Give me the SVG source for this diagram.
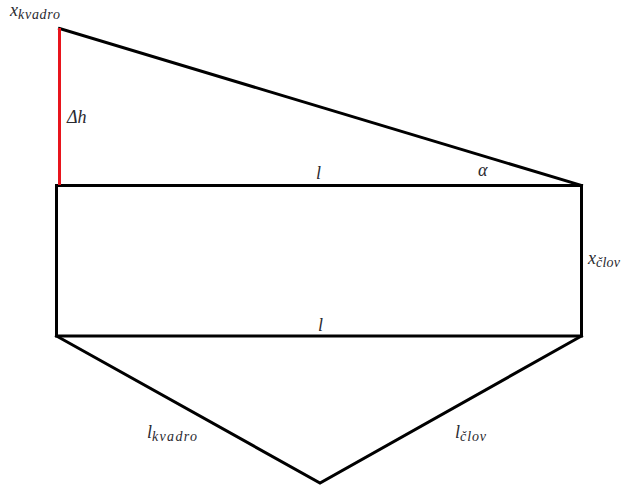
<svg xmlns="http://www.w3.org/2000/svg" width="622" height="487" viewBox="0 0 622 487">
<style>
.ln{stroke:#000;stroke-width:3;fill:none;stroke-linecap:square;stroke-linejoin:miter}
.red{stroke:#e8141c;stroke-width:3;fill:none}
.t{font-family:"Liberation Serif","DejaVu Serif",serif;font-style:italic;fill:#2a2a30;font-size:18px}
.s{font-size:14px}
</style>
<rect width="622" height="487" fill="#fff"/>
<g id="connectors">
<path class="ln" d="M59.5,28.5 L581.5,185.5"/>
<path class="ln" d="M56.5,185.5 L581.5,185.5 L581.5,336 L56.5,336 Z"/>
<path class="ln" d="M56.5,336 L320,483 L581.5,336"/>
<path class="red" d="M59.5,28 L59.5,185"/>
</g>
<g id="labels">
<text class="t" x="10" y="16">x<tspan class="s" dy="3" textLength="42" lengthAdjust="spacing">kvadro</tspan></text>
<text class="t" x="67" y="123">Δh</text>
<text class="t" x="316" y="179">l</text>
<text class="t" x="478" y="176">α</text>
<text class="t" x="588" y="264">x<tspan class="s" dy="3" textLength="24" lengthAdjust="spacing">člov</tspan></text>
<text class="t" x="318" y="331">l</text>
<text class="t" x="147" y="438">l<tspan class="s" dy="3" textLength="45" lengthAdjust="spacing">kvadro</tspan></text>
<text class="t" x="455" y="438">l<tspan class="s" dy="3" textLength="26" lengthAdjust="spacing">člov</tspan></text>
</g>
</svg>
